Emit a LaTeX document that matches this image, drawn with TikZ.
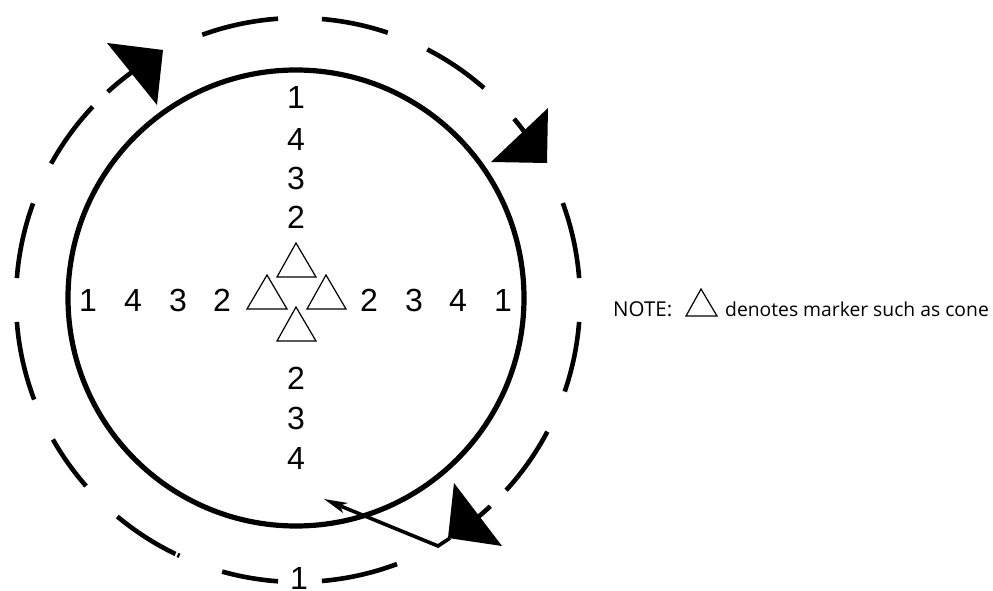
\documentclass[tikz,border=0pt]{standalone}
\usepackage{fontspec}
\setmainfont{Liberation Sans}
\newfontfamily\notefont{Open Sans}
\newcommand{\darc}[4]{%
  \pgfmathsetmacro{\angA}{atan2(#2-300,#1-298)}%
  \pgfmathsetmacro{\angB}{atan2(#4-300,#3-298)}%
  \draw[ring] ($(298,300)+(\angA:282)$) arc[start angle=\angA,end angle=\angB,radius=282];}
\usetikzlibrary{calc}
\tikzset{
  ring/.style={line width=4.6pt,black},
  digit/.style={font=\fontsize{32}{32}\selectfont,inner sep=0pt,anchor=center},
  cone/.style={line width=1.2pt,black,line join=miter},
  head/.style={fill=black,draw=none},
  notetext/.style={font=\notefont\fontsize{19.3}{20}\selectfont,inner sep=0pt,anchor=base west}
}
\begin{document}
\begin{tikzpicture}[x=1pt,y=-1pt]
\useasboundingbox (0,0) rectangle (993,591);
% inner circle
\draw[line width=5.2pt] (296,298) circle[radius=228];
% outer dashed ring
\darc{202}{34}{278}{18}
\darc{322}{18}{388}{32}
\darc{428}{48}{484}{88}
\darc{515}{118}{530}{138}
\darc{563}{203}{580}{278}
\darc{580}{322}{566}{392}
\darc{548}{432}{507}{491}
\darc{491}{507}{478}{520}
\darc{397}{564}{322}{582}
\darc{278}{582}{222}{572}
\darc{179}{557}{177}{556}
\darc{175}{555}{117}{517}
\darc{85}{487}{52}{440}
\darc{33}{400}{16}{322}
\darc{16}{278}{32}{203}
\darc{50}{163}{92}{106}
\darc{107}{91}{130}{70}
% arrowheads on the ring
\fill[head] (107,43) -- (163,50) -- (157,105) -- cycle;
\fill[head] (548,108) -- (491,162) -- (547,163) -- cycle;
\fill[head] (454,483) -- (502,546) -- (448,538) -- cycle;
% lead arrow
\coordinate (bend) at (438,546);
\coordinate (start) at (450,538);
\coordinate (tip) at (324,499);
\draw[line width=3.6pt,line join=miter] (start) -- (bend) -- (338,505);
\fill[head] (tip) -- (348,503) -- (340,505.5) -- (343,513) -- cycle;
% cones
\draw[cone] (296,243) -- (316,277) -- (277,277) -- cycle;
\draw[cone] (267,275) -- (287,309) -- (247,309) -- cycle;
\draw[cone] (326,275) -- (346,309) -- (307,309) -- cycle;
\draw[cone] (296,307) -- (316,341) -- (277,341) -- cycle;
% digits
\node[digit] (t1) at (296,97) {1};
\node[digit] (t4) at (296,139) {4};
\node[digit] (t3) at (296,178) {3};
\node[digit] (t2) at (296,217) {2};
\node[digit] (b2) at (296,378) {2};
\node[digit] (b3) at (296,418) {3};
\node[digit] (b4) at (296,458) {4};
\node[digit] (l1) at (88,300) {1};
\node[digit] (l4) at (133,300) {4};
\node[digit] (l3) at (178,300) {3};
\node[digit] (l2) at (222,300) {2};
\node[digit] (r2) at (369,300) {2};
\node[digit] (r3) at (414,300) {3};
\node[digit] (r4) at (458,300) {4};
\node[digit] (r1) at (503,300) {1};
\node[digit] (bot) at (299,578.5) {1};
% note
\node[notetext] (noteA) at (613,316) {\fontsize{20.5}{20}\selectfont NOTE:};
\draw[cone] (701,289) -- (717,316) -- (686,316) -- cycle;
\node[notetext] (noteB) at (725,316) {denotes marker such as cone};
\end{tikzpicture}
\end{document}
